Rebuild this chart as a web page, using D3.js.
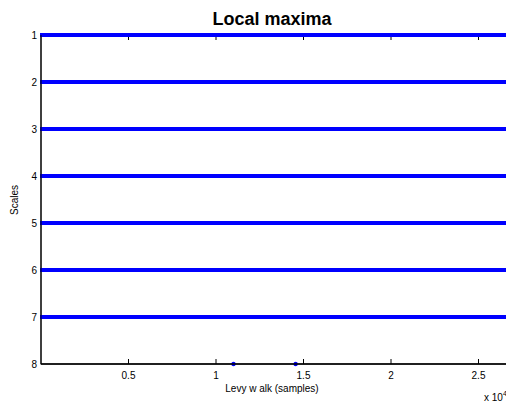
<!DOCTYPE html>
<html>
<head>
<meta charset="utf-8">
<script src="https://cdn.jsdelivr.net/npm/d3@7"></script>
<style>
  body { margin: 0; background: #fff; }
  svg { display: block; font-family: "Liberation Sans", Arial, sans-serif; }
</style>
</head>
<body>
<svg id="chart" width="506" height="403"></svg>
<script>
// scales that carry a local maxima line across the whole walk
const fullScales = [1, 2, 3, 4, 5, 6, 7]
const walkStart = 0      // x 10^4 samples
const walkEnd = 2.7
// isolated maxima found at the coarsest scale
const scale8Points = [1.1, 1.455]
const xTicks = [0.5, 1, 1.5, 2, 2.5]
const yTicks = [1, 2, 3, 4, 5, 6, 7, 8]

const svg = d3.select('#chart')
const mLeft = 41, mTop = 35, mBottom = 364
const x = d3.scaleLinear().domain([0, 1]).range([mLeft, mLeft + 175])
const y = d3.scaleLinear().domain([1, 8]).range([mTop, mBottom])
const mRight = x(walkEnd)

// axes box
svg.append('rect')
  .attr('x', mLeft).attr('y', mTop)
  .attr('width', mRight - mLeft).attr('height', mBottom - mTop)
  .attr('fill', 'none').attr('stroke', '#000').attr('stroke-width', 1)

const g = svg.append('g')

// inward ticks on bottom and top
g.selectAll('.xt-b').data(xTicks).enter().append('line')
  .attr('x1', d => x(d)).attr('x2', d => x(d))
  .attr('y1', mBottom).attr('y2', mBottom - 5)
  .attr('stroke', '#000')
g.selectAll('.xt-t').data(xTicks).enter().append('line')
  .attr('x1', d => x(d)).attr('x2', d => x(d))
  .attr('y1', mTop).attr('y2', mTop + 5)
  .attr('stroke', '#000')

g.selectAll('.xl').data(xTicks).enter().append('text')
  .attr('x', d => x(d)).attr('y', mBottom + 15)
  .attr('text-anchor', 'middle').attr('font-size', 10)
  .text(d => d)

g.selectAll('.yl').data(yTicks).enter().append('text')
  .attr('x', mLeft - 4).attr('y', d => y(d) + 3.5)
  .attr('text-anchor', 'end').attr('font-size', 10)
  .text(d => d)

// maxima lines
g.selectAll('.row').data(fullScales).enter().append('line')
  .attr('x1', x(walkStart) - 1).attr('x2', x(walkEnd))
  .attr('y1', d => y(d)).attr('y2', d => y(d))
  .attr('stroke', '#0000ff').attr('stroke-width', 4)

g.selectAll('.pt').data(scale8Points).enter().append('circle')
  .attr('cx', d => x(d)).attr('cy', y(8)).attr('r', 2.2)
  .attr('fill', '#0000ff')

// bottom and left axis lines drawn over
svg.append('line')
  .attr('x1', mLeft).attr('x2', mRight).attr('y1', mBottom).attr('y2', mBottom)
  .attr('stroke', '#000').attr('stroke-width', 1.5)
svg.append('line')
  .attr('x1', mLeft).attr('x2', mLeft).attr('y1', mTop).attr('y2', mBottom)
  .attr('stroke', '#000').attr('stroke-width', 1)

svg.append('text')
  .attr('x', 272).attr('y', 25)
  .attr('text-anchor', 'middle').attr('font-size', 18).attr('font-weight', 'bold')
  .text('Local maxima')

svg.append('text')
  .attr('x', 272).attr('y', 392)
  .attr('text-anchor', 'middle').attr('font-size', 10)
  .text('Levy w alk (samples)')

svg.append('text')
  .attr('transform', 'translate(18,200) rotate(-90)')
  .attr('text-anchor', 'middle').attr('font-size', 10)
  .text('Scales')

const mult = svg.append('text')
  .attr('x', 484).attr('y', 401).attr('font-size', 10)
mult.append('tspan').text('x 10')
mult.append('tspan').attr('dy', -5).attr('font-size', 7).text('4')
</script>
</body>
</html>
